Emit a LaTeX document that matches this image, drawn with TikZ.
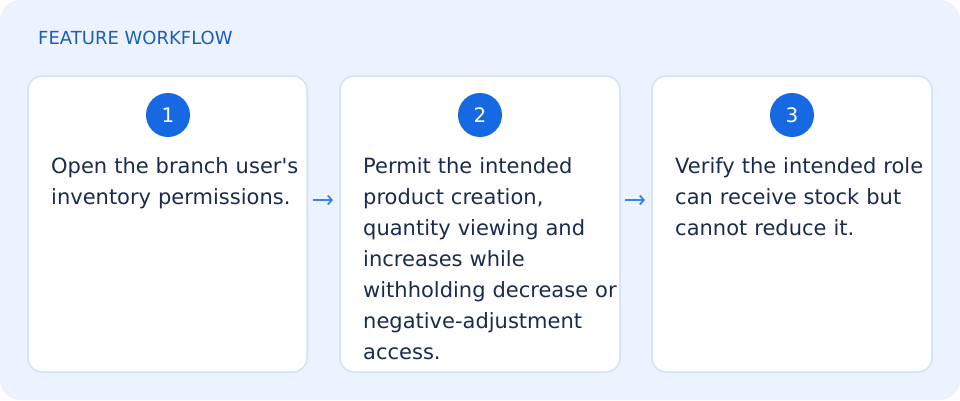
\documentclass[tikz,border=0pt]{standalone}
\usepackage{fontspec}
\newfontfamily\dv{DejaVu Sans}
\usetikzlibrary{arrows.meta}
\definecolor{bgc}{HTML}{EDF3FE}
\definecolor{cardborder}{HTML}{D3E2F7}
\definecolor{circ}{HTML}{1668E3}
\definecolor{titlec}{HTML}{1B5EBF}
\definecolor{textc}{HTML}{1A2C4E}
\definecolor{arrowc}{HTML}{3B82F0}
\begin{document}
\begin{tikzpicture}[x=1pt,y=-1pt,
  card/.style={draw=cardborder,line width=1.5pt,fill=white,rounded corners=14pt},
  num/.style={circle,fill=circ,minimum size=44pt,inner sep=0pt,text=white,font=\dv\fontsize{20}{20}\selectfont},
  body/.style={anchor=base west,align=left,inner sep=0pt,text=textc,text width=270pt,font=\dv\fontsize{21}{31}\selectfont},
  flow/.style={draw=arrowc,line width=1.8pt,-{Straight Barb[length=4pt,width=9pt]}}]
\useasboundingbox (0,0) rectangle (960,400);
\fill[bgc,rounded corners=20pt] (0,0) rectangle (960,400);
\node[anchor=base west,inner sep=0pt,text=titlec,font=\dv\fontsize{18}{18}\selectfont] (title) at (38,44) {FEATURE WORKFLOW};
\draw[card] (28,76) rectangle (307,372);
\draw[card] (340,76) rectangle (620,372);
\draw[card] (652,76) rectangle (932,372);
\coordinate (a1s) at (313,200);
\coordinate (a1e) at (333,200);
\coordinate (a2s) at (625,200);
\coordinate (a2e) at (645,200);
\node[num] (n1) at (168,115) {1};
\node[num] (n2) at (480,115) {2};
\node[num] (n3) at (792,115) {3};
\node[body] (t1) at (51,173) {Open the branch user's\\inventory permissions.};
\node[body] (t2) at (363,173) {Permit the intended\\product creation,\\quantity viewing and\\increases while\\withholding decrease or\\negative-adjustment\\access.};
\node[body] (t3) at (675,173) {Verify the intended role\\can receive stock but\\cannot reduce it.};
\draw[flow] (a1s) -- (a1e);
\draw[flow] (a2s) -- (a2e);
\end{tikzpicture}
\end{document}
